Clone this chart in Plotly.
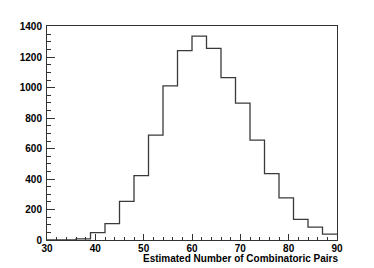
import plotly.graph_objects as go

bin_edges = [30, 33, 36, 39, 42, 45, 48, 51, 54, 57, 60, 63, 66, 69, 72, 75, 78, 81, 84, 87, 90]
counts = [0, 1, 7, 48, 107, 253, 423, 689, 1012, 1243, 1339, 1258, 1066, 898, 656, 436, 277, 135, 85, 39]
x_ticks = [30, 40, 50, 60, 70, 80, 90]
y_ticks = [0, 200, 400, 600, 800, 1000, 1200, 1400]
x_title = "Estimated Number of Combinatoric Pairs"

xs = bin_edges
ys = counts + [counts[-1]]

fig = go.Figure()
fig.add_trace(go.Scatter(x=xs, y=ys, mode="lines", line=dict(shape="hv", color="#3a3a3a", width=1.3),
                         hoverinfo="skip", showlegend=False))

font = dict(family="Liberation Sans, Arial, sans-serif", size=10, color="black", weight="bold")
# page body has an 8px margin, so the figure is sized/margined to compensate
fig.update_layout(
    width=366, height=260,
    margin=dict(l=29, r=37, t=18, b=28),
    paper_bgcolor="white", plot_bgcolor="white",
    showlegend=False,
    xaxis=dict(range=[30, 90], tickvals=x_ticks, ticktext=[str(v) for v in x_ticks],
               ticks="inside", ticklen=6, tickcolor="#333", tickwidth=1,
               minor=dict(dtick=2, ticks="inside", ticklen=3, tickcolor="#333", showgrid=False),
               showgrid=False, zeroline=False, showline=True, linecolor="#333", linewidth=1, mirror=True,
               tickfont=font, ticklabelstandoff=-1),
    yaxis=dict(range=[0, 1405], tickvals=y_ticks, ticktext=[str(v) for v in y_ticks],
               ticks="inside", ticklen=8, tickcolor="#333", tickwidth=1,
               minor=dict(dtick=50, ticks="inside", ticklen=4, tickcolor="#333", showgrid=False),
               showgrid=False, zeroline=False, showline=True, linecolor="#333", linewidth=1, mirror=True,
               tickfont=font, ticklabelstandoff=2),
    annotations=[dict(text=x_title, x=1, y=0, xref="paper", yref="paper", xanchor="right", yanchor="top",
                      yshift=-11, xshift=3, showarrow=False, font=font)],
)
fig.write_html("out.html")
